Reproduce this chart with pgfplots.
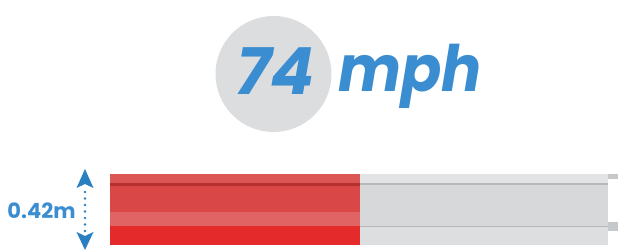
\documentclass[border=0pt]{standalone}
\usepackage{pgfplots}
\pgfplotsset{compat=1.18}
\usepackage{fontspec}
\newfontfamily\pop{Poppins}
\definecolor{txtblue}{HTML}{3A8DD0}
\definecolor{arrblue}{HTML}{2A7FC0}
\definecolor{circgrey}{HTML}{DCDDDF}
\definecolor{redbase}{HTML}{D94747}
\definecolor{redtop}{HTML}{DD5656}
\definecolor{redline}{HTML}{B63030}
\definecolor{redlight}{HTML}{E06464}
\definecolor{redbright}{HTML}{E42A2A}
\definecolor{greybase}{HTML}{D6D8DA}
\definecolor{greytop}{HTML}{E2E3E4}
\definecolor{greyline}{HTML}{B6B9BB}
\definecolor{greybot}{HTML}{DCDEDF}
\definecolor{greycap}{HTML}{C6C9CB}
\begin{document}
\begin{tikzpicture}
\begin{axis}[
  scale only axis, width=618pt, height=251pt,
  xmin=-22, xmax=101.6, ymin=0, ymax=251,
  hide axis, clip=false,
  every axis plot/.append style={xbar, bar shift=0pt, draw=none},
]
% pipe caps at the right end
\addplot[fill=greycap, bar width=5pt] coordinates {(101.6,74.5)};
\addplot[fill=greycap, bar width=9pt] coordinates {(101.6,24.5)};
% grey track (full length)
\addplot[fill=greybase, bar width=71pt] coordinates {(99.6,41.5)};
\addplot[fill=greytop, bar width=9pt] coordinates {(99.6,72.5)};
\addplot[fill=greyline, bar width=2pt] coordinates {(99.6,67)};
\addplot[fill=greyline, bar width=1.5pt] coordinates {(99.6,24.5)};
\addplot[fill=greybot, bar width=18pt] coordinates {(99.6,14.8)};
% red fill (share)
\addplot[fill=redbase, bar width=71pt] coordinates {(50,41.5)};
\addplot[fill=redtop, bar width=9pt] coordinates {(50,72.5)};
\addplot[fill=redline, bar width=3pt] coordinates {(50,66.5)};
\addplot[fill=redlight, bar width=14pt] coordinates {(50,32)};
\addplot[fill=redbright, bar width=19pt] coordinates {(50,15.5)};
\coordinate (O) at (rel axis cs:0,0);
\end{axis}
\begin{scope}[shift={(O)}, x=1pt, y=1pt]
\path (0,0) rectangle (618,251);
% circle
\fill[circgrey] (273.5,177) circle (58);
\node[anchor=base west, inner sep=0pt, text=txtblue, font=\pop\bfseries\itshape\fontsize{65}{65}\selectfont] at (236,156) {74};
\node[anchor=base west, inner sep=0pt, xscale=0.93, text=txtblue, font=\pop\bfseries\itshape\fontsize{64}{64}\selectfont] at (338,159) {mph};
% height label
\node[anchor=center, inner sep=0pt, text=txtblue, font=\pop\bfseries\fontsize{21}{21}\selectfont] at (41.5,40) {0.42m};
% arrow
\fill[arrblue] (85,82) -- (93.5,63) -- (85,67) -- (76.5,63) -- cycle;
\fill[arrblue] (85,1) -- (93.5,19) -- (85,15) -- (76.5,19) -- cycle;
\foreach \yy in {59,52.5,46,39.5,33,26.5,20} {\fill[arrblue] (85,\yy) circle (1.4);}
\end{scope}
\end{tikzpicture}
\end{document}
